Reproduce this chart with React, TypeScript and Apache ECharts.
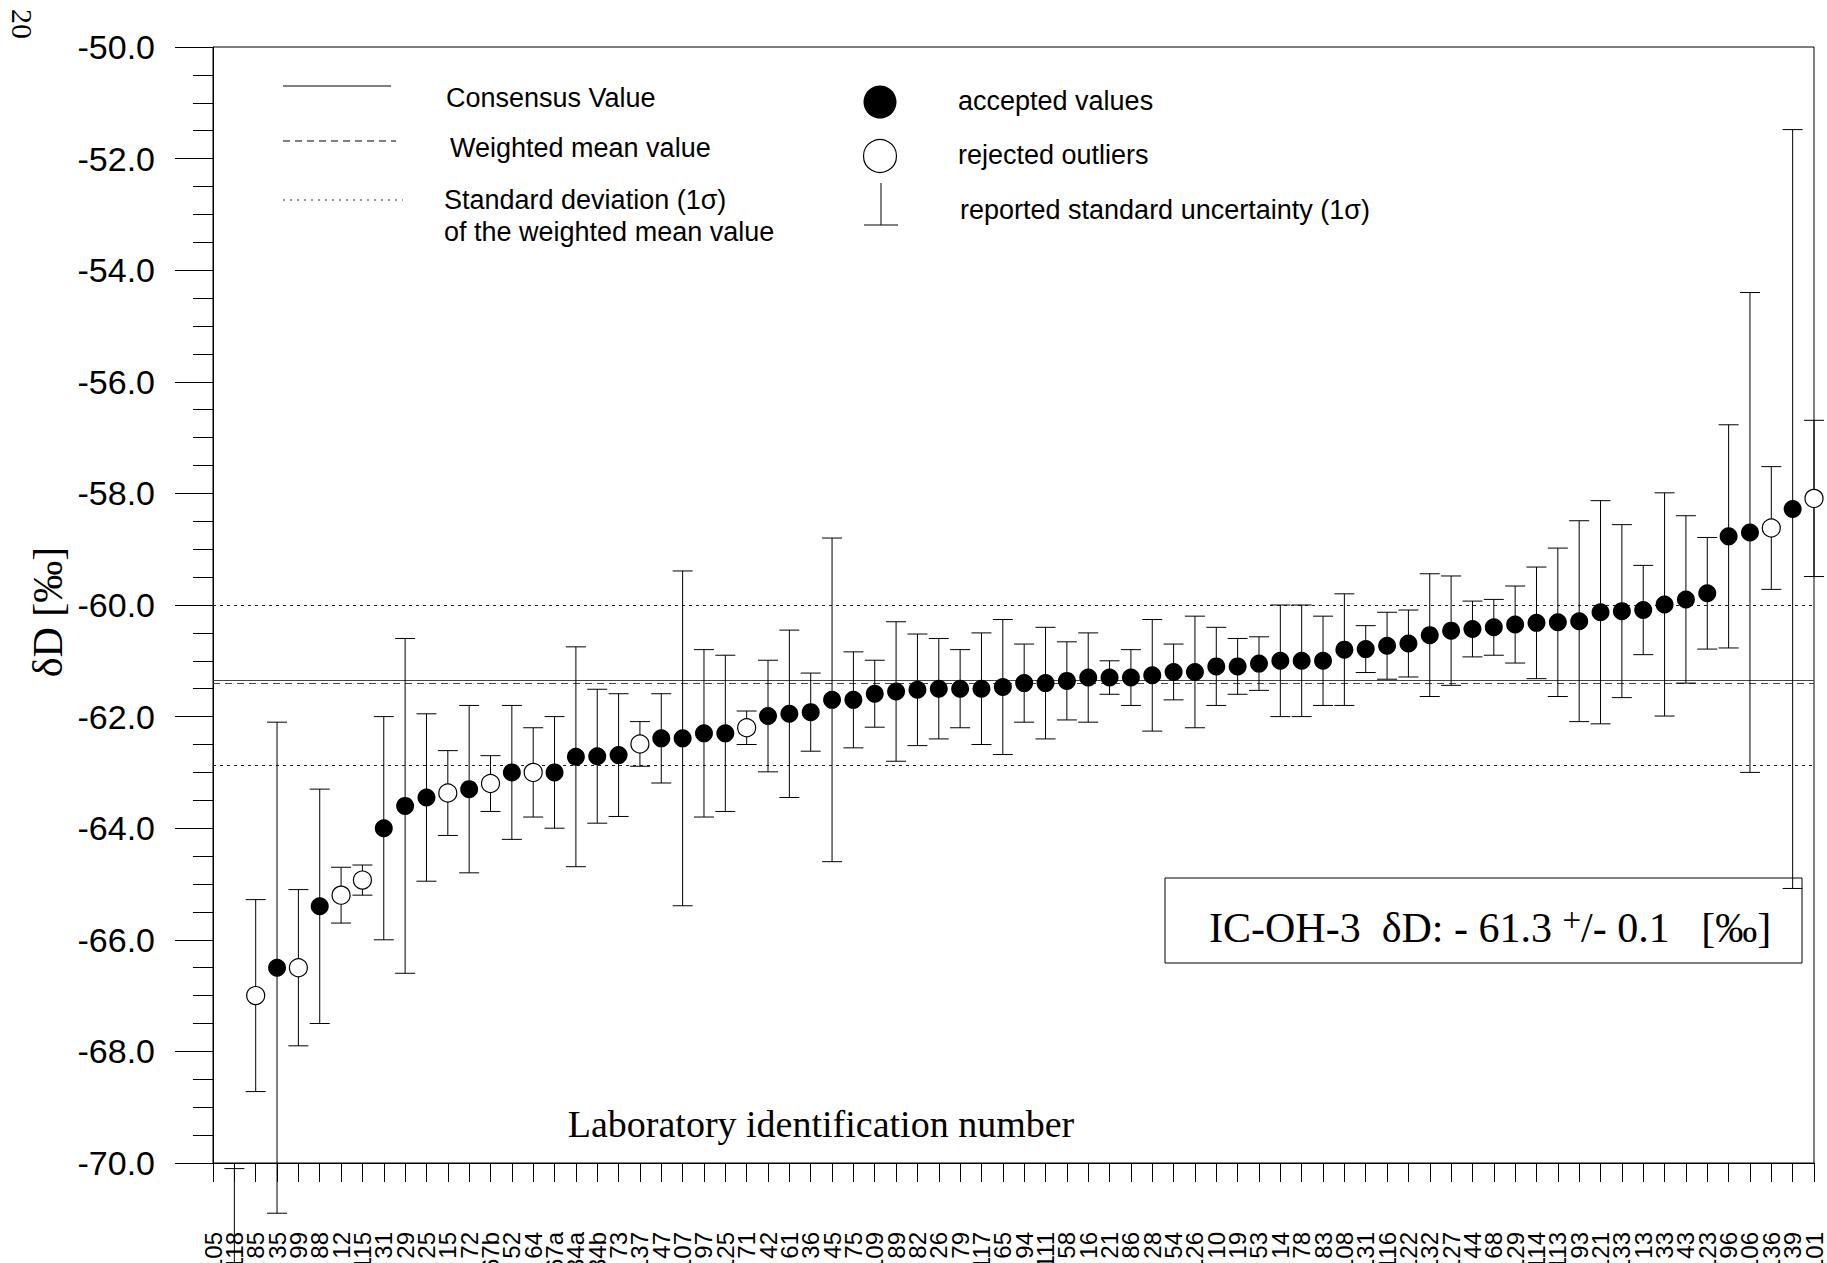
import React, { useEffect, useRef } from "react";
import * as echarts from "echarts";

// Laboratory identification numbers (x categories)
const labs = [
  "105", "118", "85", "35", "99", "88", "12", "115", "31", "29",
  "25", "15", "72", "67b", "52", "64", "67a", "34a", "34b", "73",
  "137", "47", "107", "97", "125", "71", "42", "61", "36", "45",
  "75", "109", "89", "82", "26", "79", "117", "65", "94", "111",
  "58", "16", "21", "86", "28", "54", "126", "10", "19", "53",
  "14", "78", "83", "108", "131", "116", "122", "132", "127", "44",
  "68", "129", "114", "113", "93", "121", "133", "13", "33", "43",
  "123", "96", "106", "136", "39", "101",
];

// reported delta D values [per mil]
const deltaD: (number | null)[] = [
  null, -73.0, -67.0, -66.5, -66.5, -65.4, -65.2, -64.93, -64.0, -63.6,
  -63.45, -63.37, -63.3, -63.2, -63.0, -63.0, -63.0, -62.72, -62.71, -62.69,
  -62.49, -62.39, -62.39, -62.3, -62.3, -62.2, -61.99, -61.95, -61.92, -61.7,
  -61.7, -61.59, -61.55, -61.52, -61.5, -61.5, -61.5, -61.47, -61.4, -61.4,
  -61.36, -61.3, -61.3, -61.3, -61.26, -61.2, -61.2, -61.1, -61.1, -61.05,
  -61.0, -61.0, -61.0, -60.8, -60.79, -60.73, -60.69, -60.54, -60.46, -60.43,
  -60.4, -60.35, -60.32, -60.31, -60.29, -60.13, -60.11, -60.09, -59.99, -59.9,
  -59.79, -58.77, -58.7, -58.62, -58.28, -58.09,
];

// reported standard uncertainty (1 sigma)
const sigma: (number | null)[] = [
  null, 2.9, 1.72, 4.4, 1.4, 2.1, 0.5, 0.27, 2.0, 3.0,
  1.5, 0.76, 1.5, 0.5, 1.2, 0.8, 1.0, 1.97, 1.2, 1.1,
  0.4, 0.8, 3.0, 1.5, 1.4, 0.3, 1.0, 1.5, 0.7, 2.9,
  0.86, 0.6, 1.25, 1.0, 0.9, 0.7, 1.0, 1.21, 0.7, 1.0,
  0.7, 0.8, 0.3, 0.5, 1.0, 0.5, 1.0, 0.7, 0.5, 0.48,
  1.0, 1.0, 0.8, 1.0, 0.42, 0.6, 0.6, 1.1, 0.98, 0.5,
  0.5, 0.69, 1.0, 1.33, 1.8, 2.0, 1.55, 0.8, 2.0, 1.5,
  1.0, 2.0, 4.3, 1.1, 6.8, 1.4,
];

// rejected outliers
const rejectedLabs = ["105", "118", "85", "99", "12", "115", "15", "67b", "64", "137", "71", "136", "101"];

// reference lines
const consensusValue = -61.34;
const weightedMean = -61.4;
const sdBand = [-62.87, -60.01];

// y axis
const yMin = -70;
const yMax = -50;
const yStep = 2;

const SANS = '"Liberation Sans", Arial, sans-serif';
const SERIF = '"Liberation Serif", "Times New Roman", serif';

export default function App() {
  const ref = useRef<HTMLDivElement>(null);

  useEffect(() => {
    if (!ref.current) return;
    const chart = echarts.init(ref.current, undefined, { renderer: "svg" });

    const errData: number[][] = [];
    const accepted: number[][] = [];
    const rejected: number[][] = [];
    labs.forEach((lab, i) => {
      const v = deltaD[i];
      const e = sigma[i];
      if (v === null || v === undefined) return;
      if (e !== null && e !== undefined) errData.push([i, v, e]);
      if (rejectedLabs.includes(lab)) rejected.push([i, v]);
      else accepted.push([i, v]);
    });

    const lineBlack = { stroke: "#000", lineWidth: 1 };
    const txt = (text: string, x: number, y: number, size: number, family = SANS, extra: any = {}) => ({
      type: "text",
      x,
      y,
      silent: true,
      ...extra,
      style: {
        text,
        font: `${size}px ${family}`,
        fill: "#000",
        textAlign: "left",
        textVerticalAlign: "middle",
        ...(extra.style || {}),
      },
    });

    const option: any = {
      animation: false,
      backgroundColor: "#fff",
      grid: {
        left: 213,
        right: 13,
        top: 47,
        bottom: 100,
        outerBoundsMode: "none",
        containLabel: false,
        show: true,
        borderColor: "#000",
        borderWidth: 1,
        backgroundColor: "transparent",
      },
      xAxis: {
        type: "category",
        data: labs,
        boundaryGap: false,
        axisLine: { show: true, lineStyle: { color: "#000", width: 1 } },
        axisTick: { show: true, interval: 0, length: 19, inside: false, lineStyle: { color: "#000", width: 1 } },
        axisLabel: {
          interval: 0,
          rotate: 90,
          margin: 69,
          fontSize: 24,
          fontFamily: SANS,
          color: "#000",
          hideOverlap: false,
        },
        splitLine: { show: false },
      },
      yAxis: {
        type: "value",
        min: yMin,
        max: yMax,
        interval: yStep,
        axisLine: { show: true, lineStyle: { color: "#000", width: 1 } },
        axisTick: { show: true, length: 38, inside: false, lineStyle: { color: "#000", width: 1 } },
        minorTick: { show: true, splitNumber: 4, length: 20, lineStyle: { color: "#000", width: 1 } },
        axisLabel: {
          margin: 58,
          fontSize: 34,
          fontFamily: SANS,
          color: "#000",
          formatter: (v: number) => v.toFixed(1),
        },
        splitLine: { show: false },
        minorSplitLine: { show: false },
      },
      series: [
        {
          type: "custom",
          name: "uncertainty",
          clip: false,
          z: 2,
          data: errData,
          encode: { x: 0, y: 1 },
          renderItem: (params: any, api: any) => {
            const x = api.value(0);
            const v = api.value(1);
            const e = api.value(2);
            const top = api.coord([x, v + e]);
            const bot = api.coord([x, v - e]);
            const half = 10;
            return {
              type: "group",
              children: [
                { type: "line", shape: { x1: top[0], y1: top[1], x2: bot[0], y2: bot[1] }, style: lineBlack },
                { type: "line", shape: { x1: top[0] - half, y1: top[1], x2: top[0] + half, y2: top[1] }, style: lineBlack },
                { type: "line", shape: { x1: bot[0] - half, y1: bot[1], x2: bot[0] + half, y2: bot[1] }, style: lineBlack },
              ],
            };
          },
        },
        {
          type: "scatter",
          name: "accepted values",
          clip: false,
          z: 4,
          symbol: "circle",
          symbolSize: 18,
          itemStyle: { color: "#000", opacity: 1 },
          data: accepted,
          markLine: {
            silent: true,
            symbol: ["none", "none"],
            label: { show: false },
            z: 1,
            data: [
              { yAxis: consensusValue, lineStyle: { type: "solid", color: "#444", width: 1.2 } },
              { yAxis: weightedMean, lineStyle: { type: [7, 5], color: "#444", width: 1.2 } },
              { yAxis: sdBand[0], lineStyle: { type: [3, 4], color: "#222", width: 1.2 } },
              { yAxis: sdBand[1], lineStyle: { type: [3, 4], color: "#222", width: 1.2 } },
            ],
          },
        },
        {
          type: "scatter",
          name: "rejected outliers",
          clip: false,
          z: 4,
          symbol: "circle",
          symbolSize: 18,
          itemStyle: { color: "#fff", borderColor: "#000", borderWidth: 1.2, opacity: 1 },
          data: rejected,
        },
      ],
      graphic: [
        // page number
        txt("20", 22, 24, 30, SERIF, { rotation: -Math.PI / 2, style: { textAlign: "center" } }),
        // y-axis title
        txt("δD [‰]", 48, 612, 42, SERIF, { rotation: Math.PI / 2, style: { textAlign: "center" } }),
        // legend (left)
        { type: "line", silent: true, shape: { x1: 283, y1: 86, x2: 391, y2: 86 }, style: { stroke: "#000", lineWidth: 1.2 } },
        txt("Consensus Value", 446, 98, 27),
        { type: "line", silent: true, shape: { x1: 283, y1: 141, x2: 396, y2: 141 }, style: { stroke: "#000", lineWidth: 1.2, lineDash: [7, 5] } },
        txt("Weighted mean value", 450, 148, 27),
        { type: "line", silent: true, shape: { x1: 283, y1: 200, x2: 403, y2: 200 }, style: { stroke: "#333", lineWidth: 1.2, lineDash: [2, 5] } },
        txt("Standard deviation (1σ)", 444, 200, 27),
        txt("of the weighted mean value", 444, 232, 27),
        // legend (right)
        { type: "circle", silent: true, shape: { cx: 880, cy: 102, r: 16.5 }, style: { fill: "#000" } },
        txt("accepted values", 958, 101, 27),
        { type: "circle", silent: true, shape: { cx: 880, cy: 156, r: 16.5 }, style: { fill: "#fff", stroke: "#000", lineWidth: 1.2 } },
        txt("rejected outliers", 958, 155, 27),
        { type: "line", silent: true, shape: { x1: 881, y1: 183, x2: 881, y2: 225 }, style: lineBlack },
        { type: "line", silent: true, shape: { x1: 864, y1: 225, x2: 898, y2: 225 }, style: lineBlack },
        txt("reported standard uncertainty (1σ)", 960, 210, 27),
        // result box
        {
          type: "rect",
          silent: true,
          shape: { x: 1165, y: 878, width: 637, height: 85 },
          style: { fill: "transparent", stroke: "#000", lineWidth: 1 },
        },
        {
          type: "text",
          silent: true,
          x: 1209,
          y: 924,
          style: {
            text: "{a|IC-OH-3  δD: - 61.3 }{s|+}{a|/- 0.1   [‰]}",
            textAlign: "left",
            textVerticalAlign: "middle",
            fill: "#000",
            rich: {
              a: { fontSize: 42, fontFamily: SERIF, fill: "#000", lineHeight: 50, verticalAlign: "bottom" },
              s: { fontSize: 33, fontFamily: SERIF, fill: "#000", lineHeight: 50, verticalAlign: "bottom", padding: [0, 0, 13, 0] },
            },
          },
        },
        // x-axis title
        txt("Laboratory identification number", 821, 1124, 38, SERIF, { style: { textAlign: "center" } }),
      ],
    };

    chart.setOption(option);
    return () => chart.dispose();
  }, []);

  return (
    <div
      ref={ref}
      style={{ position: "absolute", left: 0, top: 0, width: 1827, height: 1263, overflow: "hidden", background: "#fff" }}
    />
  );
}
